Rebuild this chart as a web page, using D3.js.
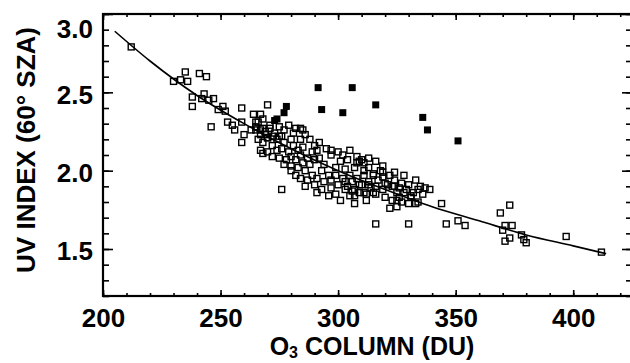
<!DOCTYPE html>
<html>
<head>
<meta charset="utf-8">
<script src="https://cdn.jsdelivr.net/npm/d3@7"></script>
<style>
  html, body { margin: 0; padding: 0; background: #fff; }
  svg { display: block; font-family: "Liberation Sans", Arial, sans-serif; font-weight: bold; }
</style>
</head>
<body>
<div id="chart"></div>
<script>
// ozone column (DU) and UV index, open squares
const openO3 = [
  212, 230, 233, 235, 236, 241, 244, 238, 238, 243, 242, 245, 247, 249, 246, 251, 252, 259, 270, 253,
  255, 256, 259, 260, 259, 264, 267, 265, 263, 265, 267, 269, 268, 267, 270, 272, 275, 278, 284, 282,
  276, 307, 316, 330, 322, 325, 327, 330, 333, 333, 315, 319, 311, 305, 306, 309, 312, 315, 304, 309,
  313, 316, 321, 323, 326, 336, 339, 331, 344, 346, 351, 354, 369, 373, 371, 374, 370, 371, 373, 378,
  379, 380, 397, 412,
  265, 268, 269, 271, 266, 268, 270, 272, 274, 276, 277, 280, 274, 276, 279, 281, 283, 270, 272, 275,
  280, 282, 284, 285, 267, 273, 277, 281, 284, 286, 277, 280, 283, 285, 287, 289, 288, 290, 291,
  292, 294, 297, 293, 296, 299, 301, 303, 291, 294, 297, 300, 302, 305, 307, 304, 306, 308, 286, 289,
  290, 287, 299, 303, 297, 301, 307, 310, 311, 309,
  313, 314, 317, 319, 320, 322, 324, 325, 327, 329, 330, 316, 320, 323, 326, 331, 334, 313, 318, 324,
  328, 335, 337, 312, 311, 308,
  266, 268, 271, 275, 279, 282, 285, 288, 290, 292, 295, 297, 300, 302, 305, 308, 310, 313, 316, 319,
  280, 284, 286, 291, 293, 296, 299, 303, 307, 311, 315, 319, 324, 328, 332, 334, 325
];
const openUV = [
  2.79, 2.57, 2.58, 2.63, 2.57, 2.62, 2.60, 2.47, 2.41, 2.49, 2.46, 2.45, 2.46, 2.39, 2.28, 2.41, 2.38, 2.40, 2.42, 2.31,
  2.29, 2.26, 2.31, 2.23, 2.18, 2.36, 2.36, 2.31, 2.26, 2.28, 2.26, 2.25, 2.11, 2.23, 2.21, 2.22, 2.22, 2.07, 2.27, 1.97,
  1.88, 1.79, 1.66, 1.66, 1.76, 1.81, 1.80, 1.79, 1.79, 1.94, 1.98, 1.99, 2.00, 1.84, 1.87, 1.86, 1.85, 1.86, 1.90, 1.91,
  1.91, 1.90, 1.91, 1.90, 1.89, 1.85, 1.88, 1.83, 1.79, 1.66, 1.68, 1.65, 1.73, 1.78, 1.65, 1.65, 1.62, 1.55, 1.57, 1.59,
  1.56, 1.54, 1.58, 1.48,
  2.26, 2.27, 2.23, 2.27, 2.20, 2.18, 2.21, 2.16, 2.20, 2.22, 2.18, 2.20, 2.13, 2.14, 2.12, 2.16, 2.13, 2.12, 2.09, 2.08,
  2.09, 2.07, 2.10, 2.15, 2.13, 2.24, 2.26, 2.24, 2.20, 2.23, 2.04, 2.03, 2.02, 2.05, 2.08, 2.12, 2.04, 2.07, 2.13,
  2.08, 2.04, 2.10, 2.00, 1.97, 2.02, 2.06, 2.01, 1.95, 1.93, 1.94, 1.91, 1.95, 1.97, 2.02, 2.07, 1.93, 1.95, 2.00, 1.97,
  1.91, 1.94, 1.85, 1.88, 1.89, 1.81, 1.88, 1.91, 1.97, 2.06,
  1.93, 1.89, 1.94, 1.88, 1.92, 1.97, 1.90, 1.86, 1.92, 1.88, 1.91, 1.85, 1.83, 1.81, 1.83, 1.84, 1.88, 2.02, 2.00, 1.99,
  1.97, 1.90, 1.89, 1.81, 2.05, 2.05,
  2.31, 2.33, 2.29, 2.28, 2.29, 2.27, 2.26, 2.20, 2.16, 2.18, 2.14, 2.13, 2.12, 2.10, 2.13, 2.09, 2.07, 2.08, 2.06, 2.03,
  2.00, 1.95, 1.90, 1.86, 1.88, 1.84, 1.97, 1.93, 1.84, 1.86, 1.97, 1.96, 1.94, 1.86, 1.86, 1.80, 1.77
];

// filled squares
const filledO3 = [273, 274, 278, 277, 291.5, 306, 293, 302, 316, 336, 338, 351];
const filledUV = [2.32, 2.33, 2.41, 2.37, 2.53, 2.53, 2.39, 2.37, 2.42, 2.34, 2.26, 2.19];

// fitted curve
const fitO3 = [205, 220, 240, 260, 280, 300, 320, 340, 360, 380, 400, 414];
const fitUV = [2.89, 2.70, 2.48, 2.30, 2.14, 2.00, 1.88, 1.77, 1.68, 1.59, 1.52, 1.47];

const xTicks = [200, 250, 300, 350, 400];
const xMinor = d3.range(200, 426, 10);
const yTicks = [1.5, 2.0, 2.5, 3.0];
const yMinor = d3.range(12, 31).map(d => d / 10);

const width = 630, height = 363;
const box = { left: 103, top: 14, right: 632, bottom: 296 };

const svg = d3.select('#chart').append('svg')
  .attr('width', width)
  .attr('height', height);

const x = d3.scaleLinear().domain([200, 425]).range([box.left, box.right]);
const y = d3.scaleLinear().domain([1.2, 3.0]).range([box.bottom, box.top]);

function styleAxis(g) {
  g.select('.domain').remove();
  g.selectAll('line').attr('stroke', '#000').attr('stroke-width', 1.6);
  g.selectAll('text').attr('fill', '#000').style('font-size', '26px').style('font-weight', 'bold');
}

// minor ticks
svg.append('g').attr('transform', `translate(${box.left},0)`)
  .call(d3.axisLeft(y).tickValues(yMinor).tickSizeInner(-6).tickSizeOuter(0).tickFormat(''))
  .call(styleAxis);
svg.append('g').attr('transform', `translate(${box.right},0)`)
  .call(d3.axisRight(y).tickValues(yMinor).tickSizeInner(-6).tickSizeOuter(0).tickFormat(''))
  .call(styleAxis);
svg.append('g').attr('transform', `translate(0,${box.bottom})`)
  .call(d3.axisBottom(x).tickValues(xMinor).tickSizeInner(-3).tickSizeOuter(0).tickFormat(''))
  .call(styleAxis);
svg.append('g').attr('transform', `translate(0,${box.top})`)
  .call(d3.axisTop(x).tickValues(xMinor).tickSizeInner(-3).tickSizeOuter(0).tickFormat(''))
  .call(styleAxis);

// major ticks + labels
const yAxis = svg.append('g').attr('transform', `translate(${box.left},0)`)
  .call(d3.axisLeft(y).tickValues(yTicks).tickSizeInner(-10).tickSizeOuter(0)
    .tickPadding(10).tickFormat(d3.format('.1f')))
  .call(styleAxis);
yAxis.selectAll('text').attr('dy', '0.42em');
// the top label sits below the frame in the original
yAxis.selectAll('.tick').filter(d => d === 3.0).select('text').attr('dy', '0.9em');

svg.append('g').attr('transform', `translate(${box.right},0)`)
  .call(d3.axisRight(y).tickValues(yTicks).tickSizeInner(-10).tickSizeOuter(0).tickFormat(''))
  .call(styleAxis);

svg.append('g').attr('transform', `translate(0,${box.bottom})`)
  .call(d3.axisBottom(x).tickValues(xTicks).tickSizeInner(-6).tickSizeOuter(0).tickPadding(13))
  .call(styleAxis);
svg.append('g').attr('transform', `translate(0,${box.top})`)
  .call(d3.axisTop(x).tickValues(xTicks).tickSizeInner(-6).tickSizeOuter(0).tickFormat(''))
  .call(styleAxis);

// frame
svg.append('rect')
  .attr('x', box.left).attr('y', box.top)
  .attr('width', box.right - box.left).attr('height', box.bottom - box.top)
  .attr('fill', 'none').attr('stroke', '#000').attr('stroke-width', 2.2);

// fit line
const fit = fitO3.map((d, i) => [d, fitUV[i]]);
const line = d3.line()
  .curve(d3.curveMonotoneX)
  .x(d => x(d[0]))
  .y(d => y(d[1]));
svg.append('path')
  .datum(fit)
  .attr('d', line)
  .attr('fill', 'none')
  .attr('stroke', '#000')
  .attr('stroke-width', 1.6);

// open squares
const s = 6;
svg.append('g').selectAll('rect')
  .data(openO3.map((d, i) => [d, openUV[i]]))
  .join('rect')
  .attr('x', d => x(d[0]) - s / 2)
  .attr('y', d => y(d[1]) - s / 2)
  .attr('width', s).attr('height', s)
  .attr('fill', 'none')
  .attr('stroke', '#000')
  .attr('stroke-width', 1.4);

// filled squares
const f = 7;
svg.append('g').selectAll('rect')
  .data(filledO3.map((d, i) => [d, filledUV[i]]))
  .join('rect')
  .attr('x', d => x(d[0]) - f / 2)
  .attr('y', d => y(d[1]) - f / 2)
  .attr('width', f).attr('height', f)
  .attr('fill', '#000');

// axis titles
const xTitle = svg.append('text')
  .attr('x', 372).attr('y', 355)
  .attr('text-anchor', 'middle')
  .style('font-size', '25px');
xTitle.append('tspan').text('O');
xTitle.append('tspan').attr('dy', 3).style('font-size', '16px').text('3');
xTitle.append('tspan').attr('dy', -3).text(' COLUMN (DU)');

svg.append('text')
  .attr('transform', 'translate(35,150) rotate(-90)')
  .attr('text-anchor', 'middle')
  .style('font-size', '26px')
  .text('UV INDEX (60° SZA)');
</script>
</body>
</html>
